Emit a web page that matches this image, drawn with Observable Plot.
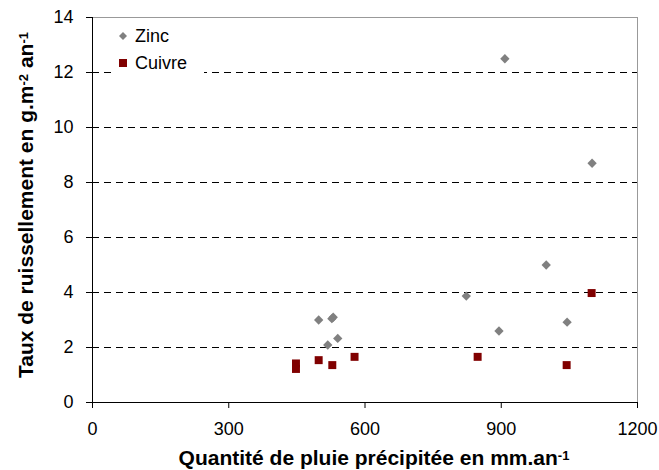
<!DOCTYPE html>
<html>
<head>
<meta charset="utf-8">
<script src="https://cdn.jsdelivr.net/npm/d3@7"></script>
<script src="https://cdn.jsdelivr.net/npm/@observablehq/plot@0.6"></script>
<style>
  body { margin: 0; background: #fff; }
  #wrap { position: relative; width: 659px; height: 470px; font-family: "Liberation Sans", Arial, sans-serif; }
  #legend { position: absolute; left: 116px; top: 22px; width: 88px; height: 56px; background: #fff; font-size: 18px; color: #000; }
  .row { position: absolute; left: 0; height: 20px; display: flex; align-items: center; }
  .row svg { margin-left: 2px; }
  .row span { margin-left: 7px; }
</style>
</head>
<body>
<div id="wrap"></div>
<script>
// Data
const zincX   = [498, 518, 527, 530, 540, 823, 895, 908, 999, 1045, 1100];
const zincY   = [3.0, 2.09, 3.05, 3.1, 2.33, 3.87, 2.6, 12.5, 5.0, 2.92, 8.7];
const cuivreX = [448, 448, 498, 528, 577, 848, 1044, 1099];
const cuivreY = [1.42, 1.22, 1.54, 1.36, 1.66, 1.66, 1.36, 3.98];
const xTicks = [0, 300, 600, 900, 1200];
const yTicks = [0, 2, 4, 6, 8, 10, 12, 14];
const gridY  = [2, 4, 6, 8, 10, 12];
const seriesNames = ["Zinc", "Cuivre"];

const zinc = zincX.map((x, i) => ({x, y: zincY[i]}));
const cuivre = cuivreX.map((x, i) => ({x, y: cuivreY[i]}));

const chart = Plot.plot({
  width: 659, height: 470,
  marginLeft: 92, marginRight: 22, marginTop: 17, marginBottom: 68,
  style: { fontFamily: "'Liberation Sans', Arial, sans-serif", fontSize: "18px", color: "#000", background: "#fff" },
  x: { domain: [0, 1200] },
  y: { domain: [0, 14] },
  marks: [
    Plot.ruleY(gridY, { stroke: "#000", strokeWidth: 1, strokeDasharray: "7,5" }),
    Plot.ruleY([14], { stroke: "#999", strokeWidth: 1 }),
    Plot.ruleX([1200], { stroke: "#999", strokeWidth: 1 }),
    Plot.ruleX([0], { stroke: "#000", strokeWidth: 1 }),
    Plot.ruleY([0], { stroke: "#000", strokeWidth: 1 }),
    Plot.axisX({ ticks: xTicks, tickFormat: d => String(d), tickSize: 6, tickPadding: 14, label: null, fontSize: 18 }),
    Plot.axisY({ ticks: yTicks, tickFormat: d => String(d), tickSize: 6, tickPadding: 13, label: null, fontSize: 18 }),
    Plot.dot(zinc, { x: "x", y: "y", symbol: "diamond2", r: 4.2, fill: "#808080", stroke: "none" }),
    Plot.dot(cuivre, { x: "x", y: "y", symbol: "square", r: 4.5, fill: "#800000", stroke: "none" })
  ]
});

const wrap = document.getElementById("wrap");
wrap.appendChild(chart);

const svg = d3.select(chart);

// Y title
const yt = svg.append("text")
  .attr("transform", "translate(33,205) rotate(-90)")
  .attr("text-anchor", "middle")
  .attr("font-weight", "bold")
  .attr("font-size", 18)
  .attr("fill", "#000");
yt.append("tspan").text("Taux de ruissellement en g.m");
yt.append("tspan").attr("dy", "-0.42em").attr("font-size", "0.62em").text("-2");
yt.append("tspan").attr("dy", "0.26em").text(" an");
yt.append("tspan").attr("dy", "-0.42em").attr("font-size", "0.62em").text("-1");

// size the titles so that the y title has its reference length
const w = yt.node().getComputedTextLength();
const titleSize = w > 0 ? (18 * 346 / w) : 19;
yt.attr("font-size", titleSize.toFixed(2));

// X title
const xt = svg.append("text")
  .attr("x", 374).attr("y", 465)
  .attr("text-anchor", "middle")
  .attr("font-weight", "bold")
  .attr("font-size", titleSize.toFixed(2))
  .attr("fill", "#000");
xt.append("tspan").text("Quantité de pluie précipitée en mm.an");
xt.append("tspan").attr("dy", "-0.42em").attr("font-size", "0.62em").text("-1");

// Legend
const legend = document.createElement("div");
legend.id = "legend";
legend.innerHTML = `
  <div class="row" style="top:4px"><svg width="10" height="10"><path d="M5,1L9,5L5,9L1,5Z" fill="#808080"/></svg><span>${seriesNames[0]}</span></div>
  <div class="row" style="top:31px"><svg width="10" height="10"><rect x="1" y="1" width="8" height="8" fill="#800000"/></svg><span>${seriesNames[1]}</span></div>`;
wrap.appendChild(legend);
</script>
</body>
</html>
